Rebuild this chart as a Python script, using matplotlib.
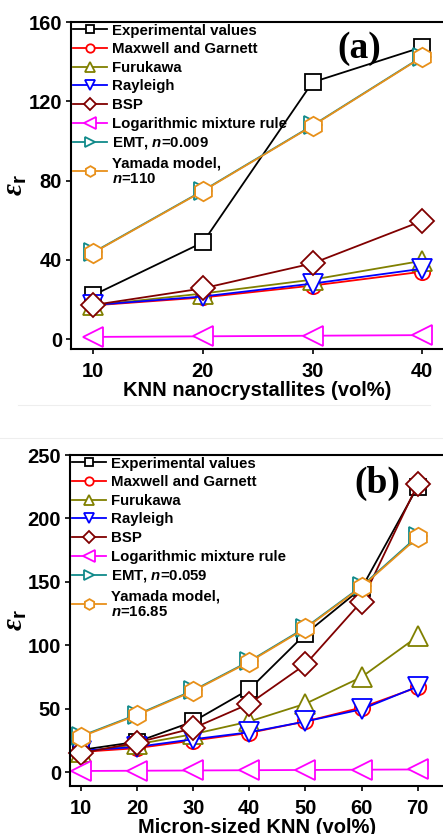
import matplotlib
matplotlib.use("Agg")
import matplotlib.pyplot as plt
from matplotlib.patches import Rectangle
from matplotlib.lines import Line2D

plt.rcParams['font.family'] = ['Liberation Sans', 'DejaVu Sans']
plt.rcParams['font.weight'] = 'bold'
plt.rcParams['mathtext.fontset'] = 'custom'
plt.rcParams['mathtext.it'] = 'Liberation Sans:italic:bold'
plt.rcParams['mathtext.rm'] = 'Liberation Sans:bold'
plt.rcParams['mathtext.bf'] = 'Liberation Sans:bold'
plt.rcParams['mathtext.cal'] = 'Liberation Serif:italic'

# ---------------- data (a) ----------------
x_a = [10, 20, 30, 40]
exp_a = [22.2, 48.8, 129.6, 147.3]
mg_a = [17.0, 21.0, 27.0, 34.0]
fur_a = [17.0, 23.0, 30.0, 39.5]
ray_a = [17.2, 21.5, 28.0, 35.5]
bsp_a = [17.2, 25.6, 38.2, 59.6]
log_a = [1.1, 1.4, 1.7, 2.0]
emt_a = [43.8, 74.9, 107.8, 142.5]
yam_a = [43.6, 74.7, 107.6, 142.3]

# ---------------- data (b) ----------------
x_b = [10, 20, 30, 40, 50, 60, 70]
exp_b = [17.6, 24.0, 40.0, 65.4, 109.0, 145.0, 225.0]
mg_b = [16.0, 19.0, 25.0, 31.0, 40.0, 51.0, 67.0]
fur_b = [16.0, 22.0, 30.0, 40.0, 54.0, 75.0, 107.0]
ray_b = [17.0, 20.0, 26.0, 31.5, 40.0, 49.6, 67.5]
bsp_b = [15.0, 23.4, 34.7, 54.0, 85.0, 134.5, 227.0]
log_b = [1.0, 1.2, 1.4, 1.6, 1.8, 2.0, 2.2]
emt_b = [28.5, 45.5, 64.5, 87.5, 114.0, 146.5, 186.0]
yam_b = [28.0, 45.0, 64.0, 87.0, 113.4, 146.0, 185.0]

labels_a = ["Experimental values", "Maxwell and Garnett", "Furukawa", "Rayleigh",
            "BSP", "Logarithmic mixture rule", r"EMT, $n$=0.009", "Yamada model,\n$n$=110"]
labels_b = ["Experimental values", "Maxwell and Garnett", "Furukawa", "Rayleigh",
            "BSP", "Logarithmic mixture rule", r"EMT, $n$=0.059", "Yamada model,\n$n$=16.85"]

colors = ['#000000', '#FF0000', '#808000', '#0000FF', '#800000', '#FF00FF', '#108A8A', '#E8901A']
markers = ['s', 'o', '^', 'v', 'D', '<', '>', 'h']
msizes = [11, 11, 14, 14, 12, 15, 12.5, 14]

W, H = 443, 834
fig = plt.figure(figsize=(W / 100, H / 100), dpi=100)


def setup(ax, xs, series, labels, xlim, ylim, yticks, xlabel, tag, tagpos, ylab_x):
    for i, (ys, lab) in enumerate(zip(series, labels)):
        ax.plot(xs, ys, color=colors[i], marker=markers[i], ms=msizes[i],
                mfc='white', mec=colors[i], mew=1.3, lw=1.3, label=lab,
                clip_on=False)
    ax.set_xlim(*xlim)
    ax.set_ylim(*ylim)
    ax.set_xticks(xs)
    ax.set_yticks(yticks)
    ax.tick_params(direction='out', length=3.5, width=1.2, labelsize=14.5, pad=3)
    ax.tick_params(axis='x', pad=6)
    for lbl in ax.get_xticklabels() + ax.get_yticklabels():
        lbl.set_fontweight('bold')
    for s in ax.spines.values():
        s.set_linewidth(1.5)
    ax.spines['right'].set_visible(False)
    ax.set_xlabel(xlabel, fontsize=14.5, fontweight='bold', labelpad=0)
    ax.set_ylabel(r'$\mathcal{\varepsilon}_\mathbf{r}$', fontsize=21)
    ax.yaxis.set_label_coords(ylab_x, 0.5)
    leg = ax.legend(loc='upper left', frameon=False, fontsize=10.8, markerscale=0.55,
                    handlelength=2.3, handletextpad=0.35, labelspacing=0.31,
                    borderaxespad=0.0, borderpad=0.1)
    for t in leg.get_texts():
        t.set_fontweight('bold')
    ax.text(tagpos[0], tagpos[1], tag, transform=ax.transAxes, ha='center', va='center',
            fontsize=27, fontweight='bold', family='Liberation Serif')


ax1 = fig.add_axes([71 / W, 1 - 349 / H, 373 / W, 327 / H])
setup(ax1, x_a, [exp_a, mg_a, fur_a, ray_a, bsp_a, log_a, emt_a, yam_a], labels_a,
      (7.96, 42.0), (-5, 160), [0, 40, 80, 120, 160], 'KNN nanocrystallites (vol%)',
      '(a)', (0.772, 0.918), -0.112)

ax2 = fig.add_axes([70 / W, 1 - 785.7 / H, 374 / W, 330.7 / H])
setup(ax2, x_b, [exp_b, mg_b, fur_b, ray_b, bsp_b, log_b, emt_b, yam_b], labels_b,
      (8.03, 74.7), (-10.6, 250), [0, 50, 100, 150, 200, 250], 'Micron-sized KNN (vol%)',
      '(b)', (0.823, 0.913), -0.11)

# cropped gap between the two panels
fig.patches.append(Rectangle((0, 1 - 437 / H), 1, 32 / H, transform=fig.transFigure,
                             facecolor='white', edgecolor='none', zorder=50))
fig.lines.append(Line2D([0.04, 0.97], [1 - 405 / H] * 2, transform=fig.transFigure,
                        color='#eeeeee', lw=0.8, zorder=51))
fig.lines.append(Line2D([0, 1], [1 - 438 / H] * 2, transform=fig.transFigure,
                        color='#eeeeee', lw=0.8, zorder=51))

fig.savefig('out.png', dpi=100)
